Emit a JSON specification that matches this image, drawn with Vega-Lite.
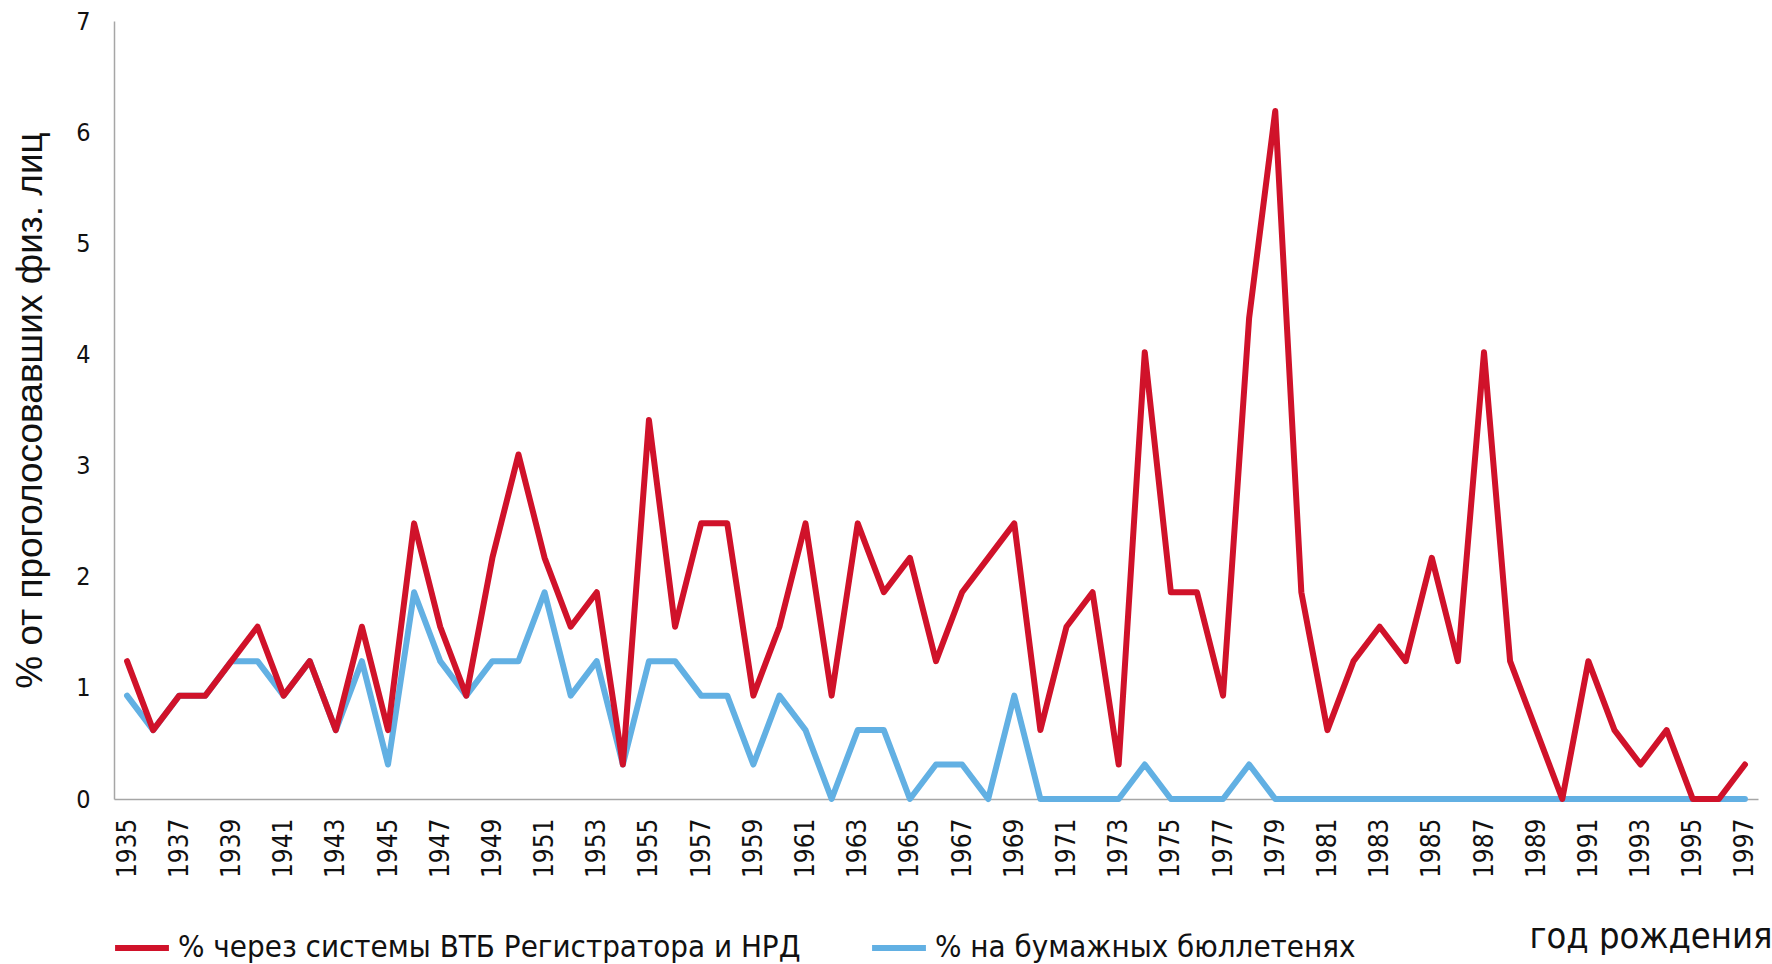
{
  "$schema": "https://vega.github.io/schema/vega-lite/v6.json",
  "width": 1644,
  "height": 778,
  "autosize": "none",
  "padding": {"left": 114, "top": 21, "right": 14, "bottom": 165},
  "background": "white",
  "config": {"view": {"stroke": null}},
  "datasets": {
    "red": [
      {"year":1935,"v":1.24},{"year":1936,"v":0.62},{"year":1937,"v":0.93},{"year":1938,"v":0.93},{"year":1939,"v":1.24},
      {"year":1940,"v":1.55},{"year":1941,"v":0.93},{"year":1942,"v":1.24},{"year":1943,"v":0.62},{"year":1944,"v":1.55},
      {"year":1945,"v":0.62},{"year":1946,"v":2.48},{"year":1947,"v":1.55},{"year":1948,"v":0.93},{"year":1949,"v":2.17},
      {"year":1950,"v":3.10},{"year":1951,"v":2.17},{"year":1952,"v":1.55},{"year":1953,"v":1.86},{"year":1954,"v":0.31},
      {"year":1955,"v":3.41},{"year":1956,"v":1.55},{"year":1957,"v":2.48},{"year":1958,"v":2.48},{"year":1959,"v":0.93},
      {"year":1960,"v":1.55},{"year":1961,"v":2.48},{"year":1962,"v":0.93},{"year":1963,"v":2.48},{"year":1964,"v":1.86},
      {"year":1965,"v":2.17},{"year":1966,"v":1.24},{"year":1967,"v":1.86},{"year":1968,"v":2.17},{"year":1969,"v":2.48},
      {"year":1970,"v":0.62},{"year":1971,"v":1.55},{"year":1972,"v":1.86},{"year":1973,"v":0.31},{"year":1974,"v":4.02},
      {"year":1975,"v":1.86},{"year":1976,"v":1.86},{"year":1977,"v":0.93},{"year":1978,"v":4.33},{"year":1979,"v":6.19},
      {"year":1980,"v":1.86},{"year":1981,"v":0.62},{"year":1982,"v":1.24},{"year":1983,"v":1.55},{"year":1984,"v":1.24},
      {"year":1985,"v":2.17},{"year":1986,"v":1.24},{"year":1987,"v":4.02},{"year":1988,"v":1.24},{"year":1989,"v":0.62},
      {"year":1990,"v":0},{"year":1991,"v":1.24},{"year":1992,"v":0.62},{"year":1993,"v":0.31},{"year":1994,"v":0.62},
      {"year":1995,"v":0},{"year":1996,"v":0},{"year":1997,"v":0.31}
    ],
    "blue": [
      {"year":1935,"v":0.93},{"year":1936,"v":0.62},{"year":1937,"v":0.93},{"year":1938,"v":0.93},{"year":1939,"v":1.24},
      {"year":1940,"v":1.24},{"year":1941,"v":0.93},{"year":1942,"v":1.24},{"year":1943,"v":0.62},{"year":1944,"v":1.24},
      {"year":1945,"v":0.31},{"year":1946,"v":1.86},{"year":1947,"v":1.24},{"year":1948,"v":0.93},{"year":1949,"v":1.24},
      {"year":1950,"v":1.24},{"year":1951,"v":1.86},{"year":1952,"v":0.93},{"year":1953,"v":1.24},{"year":1954,"v":0.31},
      {"year":1955,"v":1.24},{"year":1956,"v":1.24},{"year":1957,"v":0.93},{"year":1958,"v":0.93},{"year":1959,"v":0.31},
      {"year":1960,"v":0.93},{"year":1961,"v":0.62},{"year":1962,"v":0},{"year":1963,"v":0.62},{"year":1964,"v":0.62},
      {"year":1965,"v":0},{"year":1966,"v":0.31},{"year":1967,"v":0.31},{"year":1968,"v":0},{"year":1969,"v":0.93},
      {"year":1970,"v":0},{"year":1971,"v":0},{"year":1972,"v":0},{"year":1973,"v":0},{"year":1974,"v":0.31},
      {"year":1975,"v":0},{"year":1976,"v":0},{"year":1977,"v":0},{"year":1978,"v":0.31},{"year":1979,"v":0},
      {"year":1980,"v":0},{"year":1981,"v":0},{"year":1982,"v":0},{"year":1983,"v":0},{"year":1984,"v":0},
      {"year":1985,"v":0},{"year":1986,"v":0},{"year":1987,"v":0},{"year":1988,"v":0},{"year":1989,"v":0},
      {"year":1990,"v":0},{"year":1991,"v":0},{"year":1992,"v":0},{"year":1993,"v":0},{"year":1994,"v":0},
      {"year":1995,"v":0},{"year":1996,"v":0},{"year":1997,"v":0}
    ]
  },
  "encoding": {
    "x": {
      "field": "year", "type": "ordinal",
      "scale": {"type": "point", "padding": 0.5},
      "axis": {
        "title": "год рождения",
        "values": [1935,1937,1939,1941,1943,1945,1947,1949,1951,1953,1955,1957,1959,1961,1963,1965,1967,1969,1971,1973,1975,1977,1979,1981,1983,1985,1987,1989,1991,1993,1995,1997],
        "labelAngle": -90,
        "labelPadding": 19,
        "labelFont": "DejaVu Sans Condensed",
        "labelFontSize": 26,
        "labelColor": "#111111",
        "ticks": false,
        "domainColor": "#a6a6a6",
        "domainWidth": 1.5,
        "titleFont": "DejaVu Sans Condensed",
        "titleFontSize": 36,
        "titleFontWeight": "normal",
        "titleColor": "#111111",
        "titleAlign": "right",
        "titleAnchor": "end",
        "titleBaseline": "middle",
        "titleX": 1658,
        "titleY": 137
      }
    },
    "y": {
      "field": "v", "type": "quantitative",
      "scale": {"domain": [0, 7], "nice": false},
      "axis": {
        "title": "% от проголосовавших физ. лиц",
        "values": [0,1,2,3,4,5,6,7],
        "grid": false,
        "ticks": false,
        "labelPadding": 24,
        "labelFont": "DejaVu Sans Condensed",
        "labelFontSize": 25,
        "labelColor": "#111111",
        "domainColor": "#a6a6a6",
        "domainWidth": 1.5,
        "titleFont": "Liberation Sans",
        "titleFontSize": 37,
        "titleFontWeight": "normal",
        "titleColor": "#111111",
        "titleAngle": -90,
        "titleBaseline": "middle",
        "titleAlign": "center",
        "titleX": -84,
        "titleY": 389
      }
    },
    "color": {
      "datum": "% через системы ВТБ Регистратора и НРД",
      "type": "nominal"
    }
  },
  "layer": [
    {
      "data": {"name": "blue"},
      "mark": {"type": "line", "strokeWidth": 6, "strokeJoin": "round", "strokeCap": "round"},
      "encoding": {
        "color": {"datum": "% на бумажных бюллетенях", "type": "nominal"}
      }
    },
    {
      "data": {"name": "red"},
      "mark": {"type": "line", "strokeWidth": 6, "strokeJoin": "round", "strokeCap": "round"},
      "encoding": {
        "color": {
          "datum": "% через системы ВТБ Регистратора и НРД",
          "type": "nominal",
          "scale": {
            "domain": ["% через системы ВТБ Регистратора и НРД", "% на бумажных бюллетенях"],
            "range": ["#d0122a", "#62b0e3"]
          },
          "legend": {
            "title": null,
            "orient": "none",
            "direction": "horizontal",
            "legendX": -2,
            "legendY": 897,
            "padding": 0,
            "symbolType": "stroke",
            "symbolSize": 2900,
            "symbolStrokeWidth": 6,
            "labelOffset": 6,
            "columnPadding": 59,
            "labelFont": "DejaVu Sans Condensed",
            "labelFontSize": 31,
            "labelColor": "#111111",
            "labelLimit": 1000
          }
        }
      }
    }
  ]
}
